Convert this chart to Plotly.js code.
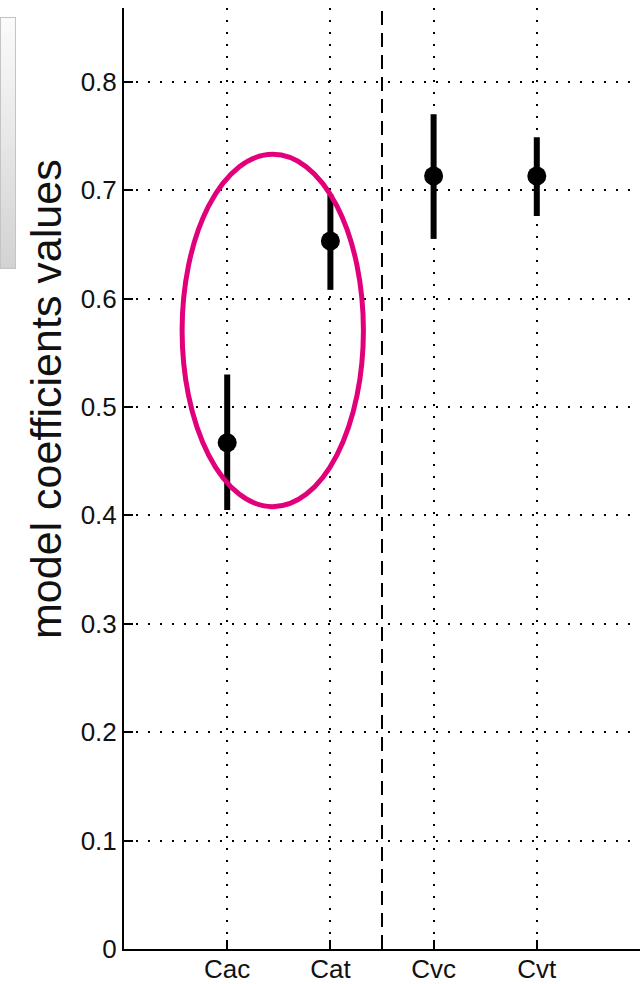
<!DOCTYPE html>
<html>
<head>
<meta charset="utf-8">
<script src="https://cdn.plot.ly/plotly-3.0.1.min.js"></script>
<style>
  html, body { margin: 0; padding: 0; background: #fff; }
  #chart { width: 640px; height: 984px; }
</style>
</head>
<body>
<div id="chart"></div>
<script>
// Data
const categories = ['Cac', 'Cat', 'Cvc', 'Cvt'];
const means      = [0.467, 0.653, 0.713, 0.713];
const upperBound = [0.530, 0.696, 0.770, 0.746];
const lowerBound = [0.405, 0.608, 0.655, 0.679];
const capHalfWidth = [0, 0, 0, 3];
const yTickVals  = [0, 0.1, 0.2, 0.3, 0.4, 0.5, 0.6, 0.7, 0.8];
const yTitle = 'model coefficients values';

const traces = categories.map((c, i) => ({
  type: 'scatter',
  mode: 'markers',
  x: [c],
  y: [means[i]],
  marker: { color: '#000', size: 19 },
  error_y: {
    type: 'data',
    symmetric: false,
    array: [upperBound[i] - means[i]],
    arrayminus: [means[i] - lowerBound[i]],
    color: '#000',
    thickness: 6,
    width: capHalfWidth[i]
  },
  showlegend: false,
  hoverinfo: 'x+y'
}));

const gradSvg = "<svg xmlns='http://www.w3.org/2000/svg' width='16' height='252'>" +
  "<defs><linearGradient id='g' x1='0' y1='0' x2='0' y2='1'>" +
  "<stop offset='0' stop-color='#fbfbfb'/><stop offset='1' stop-color='#d2d2d2'/></linearGradient></defs>" +
  "<rect x='0' y='0' width='16' height='252' fill='url(#g)' stroke='#c4c4c4' stroke-width='2'/></svg>";

const plotL = 124, plotT = 8, plotW = 516, plotH = 941;

const layout = {
  width: 640,
  height: 984,
  margin: { l: plotL, r: 0, t: plotT, b: 35 },
  paper_bgcolor: '#fff',
  plot_bgcolor: '#fff',
  font: { family: 'Liberation Sans, Arial, sans-serif', color: '#111', size: 26 },
  showlegend: false,
  xaxis: {
    type: 'category',
    categoryorder: 'array',
    categoryarray: categories,
    range: [-1, 4],
    showline: true,
    linecolor: '#000',
    linewidth: 2,
    mirror: false,
    ticks: 'inside',
    ticklen: 9,
    tickwidth: 2,
    tickcolor: '#000',
    ticklabelstandoff: -4,
    showgrid: true,
    gridcolor: '#000',
    gridwidth: 2,
    griddash: '2px,10px',
    zeroline: false,
    tickfont: { size: 26, color: '#111' }
  },
  yaxis: {
    range: [0, 0.868],
    tickvals: yTickVals,
    ticktext: yTickVals.map(v => v === 0 ? '0' : v.toFixed(1)),
    showline: true,
    linecolor: '#000',
    linewidth: 2,
    ticks: 'inside',
    ticklen: 9,
    tickwidth: 2,
    tickcolor: '#000',
    showgrid: true,
    gridcolor: '#000',
    gridwidth: 2,
    griddash: '2px,10px',
    zeroline: false,
    tickfont: { size: 26, color: '#111' }
  },
  annotations: [
    {
      text: yTitle,
      xref: 'paper', yref: 'paper',
      x: (46 - plotL) / plotW, y: (plotT + plotH - 399) / plotH,
      xanchor: 'center', yanchor: 'middle',
      textangle: -90,
      showarrow: false,
      font: { size: 43, color: '#111', family: 'Liberation Sans, Arial, sans-serif' }
    }
  ],
  shapes: [
    {
      type: 'line', xref: 'x', yref: 'paper',
      x0: 1.5, x1: 1.5, y0: 0, y1: 1,
      line: { color: '#000', width: 2, dash: '14px,8px' }
    },
    {
      type: 'circle', xref: 'x', yref: 'y',
      x0: -0.437, x1: 1.32, y0: 0.408, y1: 0.733,
      line: { color: '#e2007a', width: 5 }
    }
  ],
  images: [
    {
      source: 'data:image/svg+xml;utf8,' + encodeURIComponent(gradSvg),
      xref: 'paper', yref: 'paper',
      x: -plotL / plotW, y: 1 - (17 - plotT) / plotH,
      sizex: 16 / plotW, sizey: 252 / plotH,
      xanchor: 'left', yanchor: 'top',
      sizing: 'stretch', layer: 'below'
    }
  ]
};

Plotly.newPlot('chart', traces, layout, { displayModeBar: false, staticPlot: true });
</script>
</body>
</html>
